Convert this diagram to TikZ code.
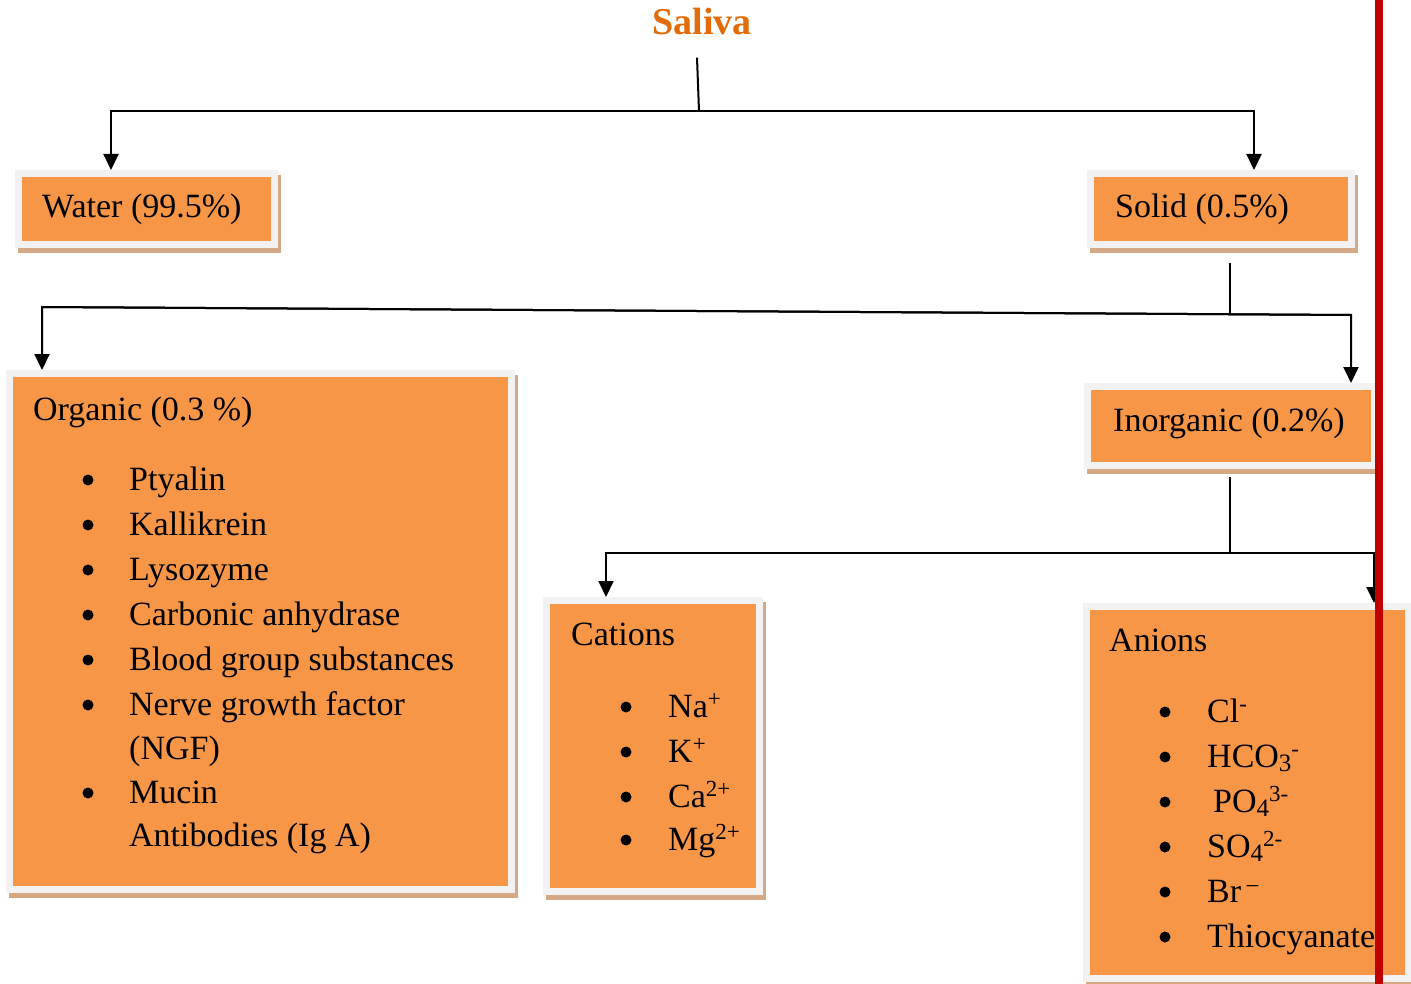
\documentclass[tikz,border=0pt]{standalone}
\usepackage{fontspec}
\setmainfont{Liberation Serif}
\usetikzlibrary{arrows.meta,calc}
\definecolor{boxorange}{HTML}{F79646}
\definecolor{boxgray}{HTML}{F2F2F2}
\definecolor{boxtan}{HTML}{D5A986}
\definecolor{titleorange}{HTML}{E36C09}
\definecolor{redline}{HTML}{C00000}
\newcommand{\mysup}[1]{\raisebox{0.30em}{\fontsize{23}{23}\selectfont #1}}
\newcommand{\mysub}[1]{\raisebox{-0.12em}{\fontsize{25}{25}\selectfont #1}}
\begin{document}
\begin{tikzpicture}[x=1pt,y=-1pt,
  box/.style={draw=boxgray, fill=boxorange, line width=7pt, inner sep=0pt, outer sep=3.5pt,
    preaction={draw=boxtan, fill=boxtan, line width=7pt, transform canvas={xshift=3pt,yshift=-5pt}}},
  txt/.style={anchor=base west, inner sep=0pt, font=\fontsize{34}{40}\selectfont},
  conn/.style={line width=2pt, black},
  arr/.style={conn, -{Triangle[length=16pt,width=15pt]}},
  bul/.style={fill=black},
]
\useasboundingbox[fill=white] (0,0) rectangle (1411,984);

% title
\node[anchor=base, inner sep=0pt, text=titleorange, font=\bfseries\fontsize{38}{44}\selectfont] (saliva) at (702,35) {Saliva};

% boxes
\node[box, minimum width=256, minimum height=71] (water) at (146.5,209) {};
\node[box, minimum width=261, minimum height=71] (solid) at (1221,209) {};
\node[box, minimum width=502, minimum height=516] (organic) at (260.5,631.5) {};
\node[box, minimum width=287, minimum height=79] (inorganic) at (1231,426) {};
\node[box, minimum width=213, minimum height=291] (cations) at (653,746) {};
\node[box, minimum width=322, minimum height=372] (anions) at (1247.5,792.5) {};

% connectors level 1
\coordinate (j1) at (699,111);
\draw[conn] ($(saliva.south)+(-5,22)$) -- (j1);
\draw[arr] (j1) -| ([xshift=-35.5pt]water.north);
\draw[arr] (j1) -| ([xshift=33pt]solid.north);

% connectors level 2
\coordinate (j2) at (1230,314);
\coordinate (hl) at (42,307);
\coordinate (hr) at (1351,315);
\draw[conn] ([xshift=9pt,yshift=-15pt]solid.south) -- (j2);
\draw[arr] (hr) -- (hl) -- (hl |- organic.north);
\draw[arr] (hl) -- (hr) -- (hr |- inorganic.north);

% connectors level 3
\coordinate (j3) at (1230,553);
\coordinate (h3l) at (606,553);
\coordinate (h3r) at (1374,553);
\draw[conn] ([xshift=-1pt,yshift=-8pt]inorganic.south) -- (j3);
\draw[arr] (j3) -| (h3l |- cations.north);
\draw[arr] (j3) -| (h3r |- anions.north);

% texts in top boxes
\node[txt] (waterT) at (42,218) {Water (99.5\%)};
\node[txt] (solidT) at (1115,218) {Solid (0.5\%)};
\node[txt] (inorgT) at (1113,431) {Inorganic (0.2\%)};

% organic
\node[txt] (orgT) at (33,420) {Organic (0.3 \%)};
\node[txt] (o1) at (129,490) {Ptyalin};
\node[txt] (o2) at (129,535) {Kallikrein};
\node[txt] (o3) at (129,580) {Lysozyme};
\node[txt] (o4) at (129,625) {Carbonic anhydrase};
\node[txt] (o5) at (129,670) {Blood group substances};
\node[txt] (o6) at (129,715) {Nerve growth factor};
\node[txt] (o7) at (129,759) {(NGF)};
\node[txt] (o8) at (129,803) {Mucin};
\node[txt] (o9) at (129,846) {Antibodies (Ig A)};
\foreach \y in {490,535,580,625,670,715,803} \fill[bul] (88,\y-10) circle (5.5);

% cations
\node[txt] (catT) at (571,645) {Cations};
\node[txt] (c1) at (668,717) {Na\mysup{+}};
\node[txt] (c2) at (668,762) {K\mysup{+}};
\node[txt] (c3) at (668,807) {Ca\mysup{2+}};
\node[txt] (c4) at (668,850) {Mg\mysup{2+}};
\foreach \y in {717,762,807,850} \fill[bul] (626,\y-10) circle (5.5);

% anions
\node[txt] (anT) at (1109,651) {Anions};
\node[txt] (a1) at (1207,722) {Cl\mysup{-}};
\node[txt] (a2) at (1207,767) {HCO\mysub{3}\mysup{-}};
\node[txt] (a3) at (1213,812) {PO\mysub{4}\mysup{3-}};
\node[txt] (a4) at (1207,857) {SO\mysub{4}\mysup{2-}};
\node[txt] (a5) at (1207,902) {Br\,\mysup{–}};
\node[txt] (a6) at (1207,947) {Thiocyanate};
\foreach \y in {722,767,812,857,902,947} \fill[bul] (1165,\y-10) circle (5.5);

% red vertical line
\draw[redline, line width=8pt] (1379,0) -- (1379,984);
\end{tikzpicture}
\end{document}
